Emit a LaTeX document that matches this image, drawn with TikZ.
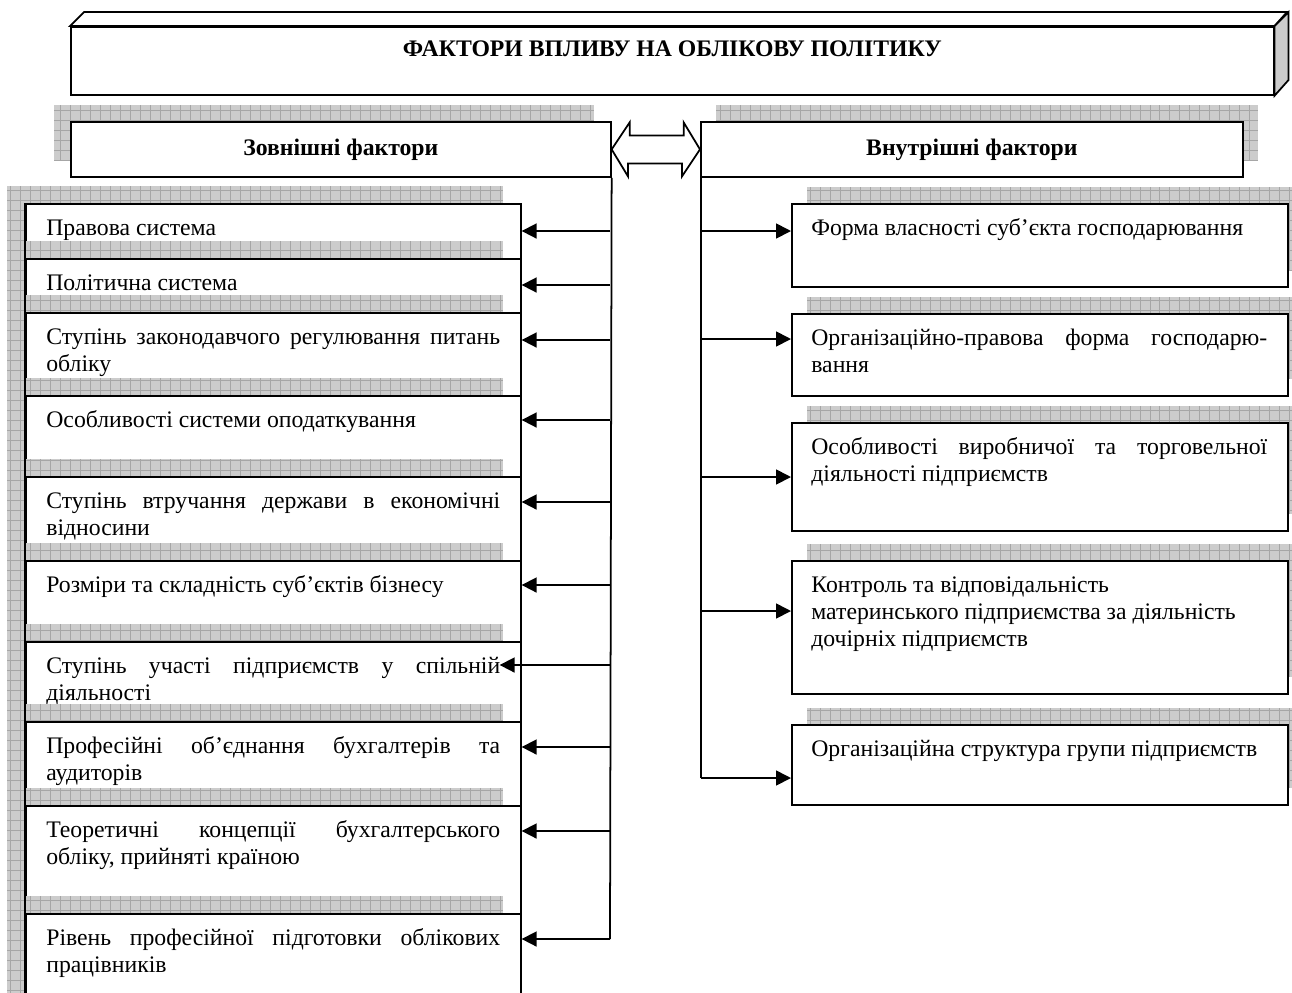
\documentclass[tikz,border=0pt]{standalone}
\usepackage{fontspec}
\setmainfont{Liberation Serif}
\usetikzlibrary{arrows.meta}

\newcommand{\boxfont}{\fontsize{13.5}{15.6}\selectfont}
\newcommand{\shadowrect}[2]{\fill[shadowfill] #1 rectangle #2; \draw[shadowgrid] #1 grid #2;}

\begin{document}
\begin{tikzpicture}[x=0.02cm, y=-0.02cm,
  every node/.style={font=\boxfont},
  framebox/.style={draw, line width=1pt, fill=white, inner sep=0pt, anchor=north west},
  boxtext/.style={anchor=base west, inner sep=0pt, text width=9.08cm, align=justify},
  headtext/.style={font=\boxfont\bfseries},
  shadowfill/.style={fill=gray!40},
  shadowgrid/.style={draw=gray!70, line width=0.3pt, step=0.2cm},
  bus/.style={line width=1pt},
  arr/.style={line width=1pt, -{Triangle[length=8.5pt,width=8.5pt]}}]

\useasboundingbox (0,0) rectangle (1292,992);

% title block
\node[framebox, minimum width=24.06cm, minimum height=1.36cm] (title) at (70,26) {};
\draw[line width=1pt, fill=white] (title.north west) -- ++(14,-14) -- ++(1203,0) -- (title.north east) -- cycle;
\draw[line width=1pt, fill=gray!40] (title.north east) -- ++(14,-14) -- ++(0,68) -- (title.south east) -- cycle;
\node[headtext] (titletext) at ([yshift=0.24cm]title.center) {ФАКТОРИ ВПЛИВУ НА ОБЛІКОВУ ПОЛІТИКУ};

% two groups
\shadowrect{(54,105)}{(594,160)}
\node[framebox, headtext, minimum width=10.8cm, minimum height=1.1cm] (zf) at (70,121) {Зовнішні фактори};
\shadowrect{(716,105)}{(1258,160)}
\node[framebox, headtext, minimum width=10.84cm, minimum height=1.1cm] (vf) at (700,121) {Внутрішні фактори};

\draw[line width=1pt, fill=white] (zf.east) -- ++(18,-27) -- ++(0,13) -- ++(54,0) -- ++(0,-13)
  -- (vf.west) -- ++(-18,27) -- ++(0,-13) -- ++(-54,0) -- ++(0,13) -- cycle;

% external factors
\foreach \k/\ty/\hh/\txt in {
  1/203/55/{Правова система},
  2/258/54/{Політична система},
  3/312/83/{Ступінь законодавчого регулювання питань\linebreak обліку},
  4/395/81/{Особливості системи оподаткування},
  5/476/84/{Ступінь втручання держави в економічні\linebreak відносини},
  6/560/81/{Розміри та складність суб’єктів бізнесу},
  7/641/80/{Ступінь участі підприємств у спільній\linebreak діяльності},
  8/721/84/{Професійні об’єднання бухгалтерів та\linebreak аудиторів},
  9/805/108/{Теоретичні концепції бухгалтерського\linebreak обліку, прийняті країною},
  10/913/100/{Рівень професійної підготовки облікових\linebreak працівників}}{
  \shadowrect{(7,\ty-17)}{(503,\ty-17+\hh)}
  \node[framebox, minimum width=9.9cm, minimum height=\hh*0.02cm] (l\k) at (25,\ty) {};
  \node[boxtext] (lt\k) at ([shift={(21,32)}]l\k.north west) {\txt};
}
\draw[bus] (l1.north west) -- (l10.south west);

% internal factors
\foreach \k/\ty/\hh/\txt in {
  1/203/83/{Форма власності суб’єкта господарювання},
  2/313/82/{Організаційно-правова форма господарю-\linebreak вання},
  3/422/108/{Особливості виробничої та торговельної\linebreak діяльності підприємств},
  4/560/133/{Контроль та відповідальність\hfil\break материнського підприємства за діяльність\hfil\break дочірніх підприємств},
  5/724/80/{Організаційна структура групи підприємств}}{
  \shadowrect{(807,\ty-16)}{(1303,\ty-16+\hh)}
  \node[framebox, minimum width=9.92cm, minimum height=\hh*0.02cm] (r\k) at (791,\ty) {};
  \node[boxtext, text width=9.12cm] (rt\k) at ([shift={(20,32)}]r\k.north west) {\txt};
}

% connectors
\foreach \k/\y in {1/231,2/285,3/340,4/420,5/502,6/585,7/665,8/747,9/831,10/939}
  \coordinate (ly\k) at (610,\y);
\draw[bus] (zf.south east) -- (ly10);
\foreach \k in {1,2,3,4,5,6,8,9,10}
  \draw[arr] (ly\k) -- (l\k.east |- ly\k);
\draw[arr] (ly7) -- ([xshift=-0.44cm]l7.east |- ly7);

\foreach \k/\y in {1/231,2/339,3/477,4/611,5/778}
  \coordinate (ry\k) at (701,\y);
\draw[bus] ([xshift=0.02cm]vf.south west) -- (ry5);
\foreach \k in {1,...,5}
  \draw[arr] (ry\k) -- (r\k.west |- ry\k);

\end{tikzpicture}
\end{document}
